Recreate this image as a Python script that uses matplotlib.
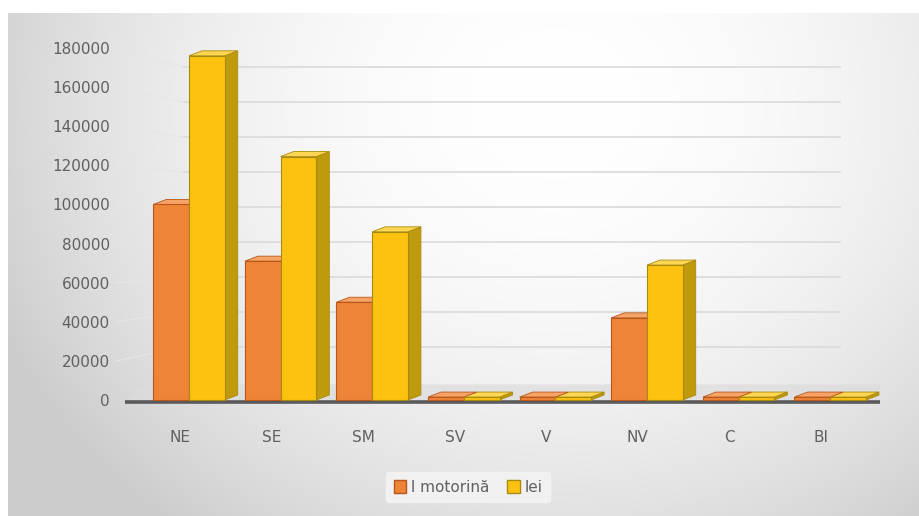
import numpy as np
import matplotlib
matplotlib.use("Agg")
import matplotlib.pyplot as plt
from matplotlib.patches import Rectangle

regions = ["NE", "SE", "SM", "SV", "V", "NV", "C", "BI"]
motorina = [100000, 71000, 50000, 1500, 1500, 42000, 1500, 1500]
lei = [176000, 124500, 86000, 1500, 1500, 69000, 1500, 1500]
yticks = list(range(0, 180001, 20000))

ORANGE = "#EE8436"
ORANGE_EDGE = "#B8561C"
ORANGE_TOP = "#F5A466"
YELLOW = "#FDC20F"
YELLOW_EDGE = "#A88A10"
YELLOW_SIDE = "#BE9A0C"
YELLOW_TOP = "#FFD651"
TEXT = "#606060"

W, H = 919, 516
fig = plt.figure(figsize=(W / 100, H / 100), dpi=100)
fig.patch.set_facecolor("white")

# soft radial gradient panel behind everything
bg = fig.add_axes([8 / W, 0, 1 - 8 / W, 1 - 13 / H])
bg.set_axis_off()
gx, gy = np.meshgrid(np.linspace(0, 1, 400), np.linspace(0, 1, 300))
r = np.sqrt(((gx - 0.6) / 0.62) ** 2 + ((gy - 0.18) / 1.0) ** 2)
shade = np.clip(1.0 - 0.17 * r ** 2, 0.80, 1.0)
bg.imshow(np.dstack([shade, shade, shade]), aspect="auto", extent=[0, 1, 0, 1], origin="upper")
bg.set_xlim(0, 1)
bg.set_ylim(0, 1)

ymin, ymax = -4000, 190000
px_per_unit = 352 / 180000
ax_bottom = (H - (400 + (0 - ymin) * px_per_unit)) / H
ax_height = (ymax - ymin) * px_per_unit / H
ax = fig.add_axes([125 / W, ax_bottom, 755 / W, ax_height])
ax.patch.set_alpha(0)
step = 91.6
ax.set_xlim((125 - 189) / step, (880 - 189) / step)
ax.set_ylim(ymin, ymax)
for s in ax.spines.values():
    s.set_visible(False)

x = np.arange(len(regions))
unit_y = 1 / px_per_unit

# back wall gridlines and the faint lines running to them from the side wall
back_scale = 35 / 39.1
back_off = 18 * unit_y
gx0, gx1 = (183 - 189) / step, (840 - 189) / step
for v in yticks[1:]:
    yb = back_off + v * back_scale
    ax.plot([gx0, gx1], [yb, yb], color="#DADADA", lw=1.2, zorder=1)
    ax.plot([(116 - 189) / step, gx0], [v, yb], color="#E6E6E6", lw=0.8, zorder=1, clip_on=False)

# floor
fx = [(125 - 189) / step, (897 - 189) / step, (885 - 189) / step, (140 - 189) / step]
fy = [-1200, -1200, 8000, 8000]
ax.fill(fx, fy, color="#DCDCDC", alpha=0.7, zorder=1.5, lw=0)
ax.plot([fx[0], fx[1]], [-1200, -1200], color="#5A5A5A", lw=2.6, zorder=2, solid_capstyle="round")

bw = 0.39
dx = 13 / step
dy = 5 * unit_y

for i, (m, l) in enumerate(zip(motorina, lei)):
    xo = x[i] - bw / 2
    xy = x[i] + bw / 2
    # yellow side face and top
    left, right = xy + bw / 2, xy + bw / 2 + dx
    ax.fill([left, right, right, left], [0, dy, l + dy, l], color=YELLOW_SIDE, ec=YELLOW_EDGE, lw=0.6, zorder=3)
    ax.fill([xy - bw / 2, xy - bw / 2 + dx, right, left], [l, l + dy, l + dy, l],
            color=YELLOW_TOP, ec=YELLOW_EDGE, lw=0.6, zorder=3)
    # orange top
    ax.fill([xo - bw / 2, xo - bw / 2 + dx, xo + bw / 2 + dx, xo + bw / 2], [m, m + dy, m + dy, m],
            color=ORANGE_TOP, ec=ORANGE_EDGE, lw=0.6, zorder=3)

ax.bar(x - bw / 2, motorina, bw, color=ORANGE, edgecolor=ORANGE_EDGE, lw=0.8, zorder=4)
ax.bar(x + bw / 2, lei, bw, color=YELLOW, edgecolor=YELLOW_EDGE, lw=0.8, zorder=4)

ax.set_yticks(yticks)
ax.set_yticklabels([str(v) for v in yticks])
ax.set_xticks(x - 0.1)
ax.set_xticklabels(regions)
ax.tick_params(axis="y", length=0, pad=11, labelsize=11, labelcolor=TEXT)
ax.tick_params(axis="x", length=0, pad=16, labelsize=11, labelcolor=TEXT)

# legend
handles = [Rectangle((0, 0), 1, 1, fc=ORANGE, ec=ORANGE_EDGE),
           Rectangle((0, 0), 1, 1, fc=YELLOW, ec=YELLOW_EDGE)]
leg = fig.legend(handles, ["l motorină", "lei"], loc="center", bbox_to_anchor=(468 / W, 1 - 487 / H),
                 ncol=2, frameon=True, fontsize=11, handlelength=0.8, handleheight=0.9,
                 handletextpad=0.3, columnspacing=1.2, borderpad=0.5)
leg.get_frame().set_facecolor("#F3F3F3")
leg.get_frame().set_edgecolor("#F3F3F3")
leg.get_frame().set_alpha(0.9)
for t in leg.get_texts():
    t.set_color(TEXT)

fig.savefig("out.png", dpi=100)
